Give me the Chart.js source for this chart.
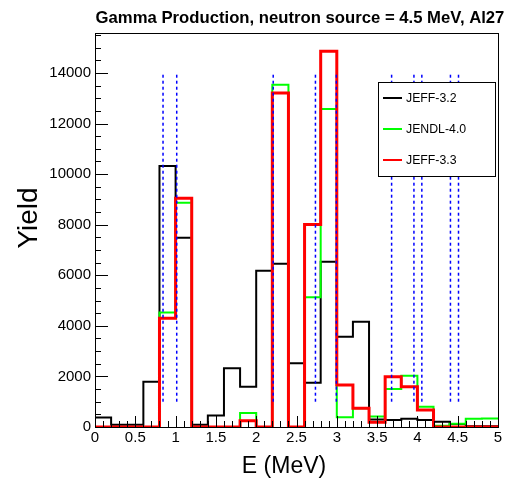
<!DOCTYPE html>
<html>
<head>
<meta charset="utf-8">
<script src="https://cdn.jsdelivr.net/npm/chart.js@4.4.1/dist/chart.umd.min.js"></script>
<style>
  html, body { margin: 0; padding: 0; background: #fff; }
  #wrap { width: 511px; height: 478px; }
</style>
</head>
<body>
<div id="wrap"><canvas id="gammaChart" width="511" height="478"></canvas></div>
<script>
// bins: lower edges, width 0.2 MeV
const binLow = [0.0, 0.2, 0.4, 0.6, 0.8, 1.0, 1.2, 1.4, 1.6, 1.8, 2.0, 2.2, 2.4,
                2.6, 2.8, 3.0, 3.2, 3.4, 3.6, 3.8, 4.0, 4.2, 4.4, 4.6, 4.8];
const binWidth = 0.2;

// yields
const jeff32  = [380, 90, 90, 1790, 10320, 7480, 90, 450, 2320, 1590, 6180, 6460, 2520,
                 1750, 6530, 3570, 4160, 300, 280, 330, 280, 210, 120, 30, 30];
const jendl40 = [0, 0, 0, 0, 4530, 8870, 0, 0, 0, 550, 0, 13530, 0,
                 5130, 12570, 390, 740, 420, 1500, 2030, 800, 50, 130, 330, 340];
const jeff33  = [0, 0, 0, 0, 4300, 9050, 0, 0, 0, 250, 0, 13210, 0,
                 8010, 14860, 1660, 740, 190, 1990, 1590, 670, 0, 0, 0, 0];

// Al27 gamma lines (blue dotted markers)
const gammaLines = [0.844, 1.014, 2.211, 2.735, 2.994, 3.68, 3.957, 4.055, 4.41, 4.51];
const markerLow = 1000;
const markerHigh = 14000;

const xTickLabels = [0, 0.5, 1, 1.5, 2, 2.5, 3, 3.5, 4, 4.5, 5];
const yTickLabels = [0, 2000, 4000, 6000, 8000, 10000, 12000, 14000];

const FONT = '"Liberation Sans", Arial, Helvetica, sans-serif';

// histogram outline as step points
function histPoints(vals) {
    const pts = binLow.map((x, i) => ({ x: x, y: vals[i] }));
    pts.push({ x: binLow[binLow.length - 1] + binWidth, y: vals[vals.length - 1] });
    return pts;
}

function histSet(label, vals, color, width, order) {
    return {
        label: label,
        data: histPoints(vals),
        borderColor: color,
        borderWidth: width,
        stepped: 'before',
        pointRadius: 0,
        fill: false,
        order: order
    };
}

const datasets = [
    histSet('JEFF-3.2', jeff32, '#000000', 2, 3),
    histSet('JENDL-4.0', jendl40, '#00ff00', 2, 2),
    histSet('JEFF-3.3', jeff33, '#ff0000', 3, 1)
];

gammaLines.forEach(e => {
    datasets.push({
        label: '',
        marker: true,
        data: [{ x: e, y: markerLow }, { x: e, y: markerHigh }],
        borderColor: '#0000ff',
        borderWidth: 1.5,
        borderDash: [3, 3],
        pointRadius: 0,
        fill: false,
        order: 0
    });
});

// frame, inward ticks, legend box and titles in ROOT style
const rootStyle = {
    id: 'rootStyle',
    afterDatasetsDraw(chart) {
        const { ctx, chartArea: a, scales } = chart;
        ctx.save();
        ctx.strokeStyle = '#000';
        ctx.lineWidth = 1;
        ctx.setLineDash([]);
        ctx.strokeRect(a.left + 0.5, a.top + 0.5, a.right - a.left, a.bottom - a.top);

        ctx.beginPath();
        for (let k = 0; k <= 50; k++) {
            const px = Math.round(scales.x.getPixelForValue(k * 0.1)) + 0.5;
            const len = k % 5 === 0 ? 11 : 6;
            ctx.moveTo(px, a.bottom);
            ctx.lineTo(px, a.bottom - len);
        }
        for (let v = 0; v <= 15500; v += 500) {
            const py = Math.round(scales.y.getPixelForValue(v)) + 0.5;
            const len = v % 2000 === 0 ? 13 : 6;
            ctx.moveTo(a.left, py);
            ctx.lineTo(a.left + len, py);
        }
        ctx.stroke();

        // legend
        const lx = 378, ly = 82, lw = 117, lh = 94;
        ctx.fillStyle = '#fff';
        ctx.fillRect(lx, ly, lw, lh);
        ctx.strokeRect(lx + 0.5, ly + 0.5, lw, lh);
        ctx.font = '12.3px ' + FONT;
        ctx.textBaseline = 'middle';
        ctx.textAlign = 'left';
        const rows = chart.data.datasets.filter(d => !d.marker);
        const rowY = [98, 129, 160];
        rows.forEach((d, i) => {
            ctx.strokeStyle = d.borderColor;
            ctx.lineWidth = 2;
            ctx.beginPath();
            ctx.moveTo(383, rowY[i]);
            ctx.lineTo(402, rowY[i]);
            ctx.stroke();
            ctx.fillStyle = '#000';
            ctx.fillText(d.label, 406, rowY[i] + 1);
        });
        ctx.restore();
    },
    afterDraw(chart) {
        const { ctx } = chart;
        ctx.save();
        ctx.fillStyle = '#000';
        ctx.textAlign = 'center';
        ctx.textBaseline = 'alphabetic';
        ctx.font = 'bold 16.7px ' + FONT;
        ctx.fillText('Gamma Production, neutron source = 4.5 MeV, Al27', 300, 23);
        ctx.font = '23px ' + FONT;
        ctx.fillText('E (MeV)', 284, 473);
        ctx.translate(37, 218);
        ctx.rotate(-Math.PI / 2);
        ctx.font = '28px ' + FONT;
        ctx.fillText('Yield', 0, 0);
        ctx.restore();
    }
};

const config = {
    type: 'line',
    data: { datasets: datasets },
    options: {
        responsive: false,
        devicePixelRatio: 1,
        animation: false,
        layout: { padding: { left: 0, right: 13, top: 33, bottom: 0 } },
        scales: {
            x: {
                type: 'linear',
                min: 0,
                max: 5,
                afterFit: s => { s.height = 51; },
                grid: { display: false, drawTicks: false },
                border: { display: false },
                afterBuildTicks: s => { s.ticks = xTickLabels.map(v => ({ value: v })); },
                ticks: {
                    autoSkip: false,
                    maxRotation: 0,
                    padding: 2,
                    color: '#000',
                    font: { family: FONT, size: 15 },
                    callback: v => String(v)
                }
            },
            y: {
                type: 'linear',
                min: 0,
                max: 15580,
                afterFit: s => { s.width = 95; },
                grid: { display: false, drawTicks: false },
                border: { display: false },
                afterBuildTicks: s => { s.ticks = yTickLabels.map(v => ({ value: v })); },
                ticks: {
                    padding: 4,
                    color: '#000',
                    font: { family: FONT, size: 15 },
                    callback: v => String(v)
                }
            }
        },
        plugins: {
            legend: { display: false },
            title: { display: false },
            tooltip: { enabled: false }
        }
    },
    plugins: [rootStyle]
};

const ctx = document.getElementById('gammaChart').getContext('2d');
const myChart = new Chart(ctx, config);
</script>
</body>
</html>
